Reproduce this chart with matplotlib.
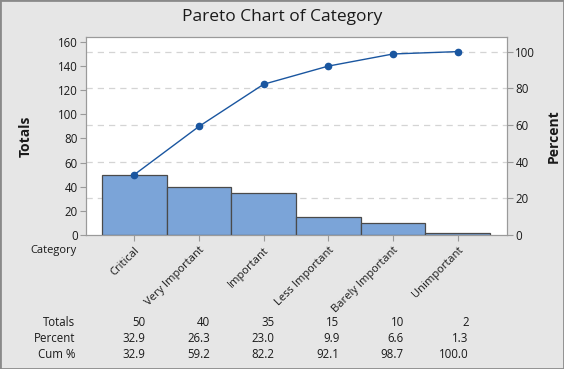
import matplotlib.pyplot as plt
import numpy as np

plt.rcParams['font.family'] = ['Open Sans', 'DejaVu Sans']

categories = ['Critical', 'Very Important', 'Important', 'Less Important',
              'Barely Important', 'Unimportant']
totals = [50, 40, 35, 15, 10, 2]
percent = [32.9, 26.3, 23.0, 9.9, 6.6, 1.3]
cum_pct = [32.9, 59.2, 82.2, 92.1, 98.7, 100.0]

bg = '#e6e6e6'
spine_col = '#9a9a9a'
txt_col = '#1a1a1a'

fig = plt.figure(figsize=(5.64, 3.69), dpi=100, facecolor=bg)

ax = fig.add_axes([86 / 564, 1 - 235 / 369, (507 - 86) / 564, (235 - 37) / 369])
ax.set_facecolor('white')

x = np.arange(len(categories))
ax.bar(x, totals, width=1.0, color='#7ba4d8', edgecolor='#4a4a4a', linewidth=0.9, zorder=3)

ymax = 164.1
scale = sum(totals) / 100
ax.set_ylim(0, ymax)
ax.set_xlim(-0.747, 5.763)
ax.set_yticks(np.arange(0, 161, 20))
ax.set_xticks(x)
ax.set_xticklabels(categories, rotation=45, ha='right', rotation_mode='anchor', fontsize=8, color=txt_col)
ax.tick_params(axis='y', labelsize=8.3, colors=spine_col, labelcolor=txt_col, length=4, pad=2)
ax.tick_params(axis='x', colors=spine_col, labelcolor=txt_col, length=4, pad=3)
for s in ax.spines.values():
    s.set_color(spine_col)
ax.set_ylabel('Totals', fontsize=10, fontweight='bold', color=txt_col, labelpad=18)
# dashed grid at the percent ticks, behind the bars
for v in range(20, 101, 20):
    ax.axhline(v * scale, color='#d4d4d4', linestyle=(0, (5, 4)), linewidth=0.9, zorder=0)

ax2 = ax.twinx()
ax2.set_ylim(0, ymax / scale)
ax2.set_yticks(np.arange(0, 101, 20))
ax2.tick_params(axis='y', labelsize=8.3, colors=spine_col, labelcolor=txt_col, length=4, pad=2)
for s in ax2.spines.values():
    s.set_color(spine_col)
ax2.set_ylabel('Percent', fontsize=10, fontweight='bold', color=txt_col, labelpad=8)
ax2.plot(x, cum_pct, color='#1a56a0', linewidth=1.0, marker='o', markersize=4.5, zorder=4)

fig.text(282 / 564, 1 - 17 / 369, 'Pareto Chart of Category', ha='center', va='center',
         fontsize=12.5, color=txt_col)
fig.text(77 / 564, 1 - 250 / 369, 'Category', ha='right', va='center', fontsize=8, color=txt_col)

# summary table below the chart
rows = [('Totals', [str(v) for v in totals]),
        ('Percent', ['%.1f' % v for v in percent]),
        ('Cum %', ['%.1f' % v for v in cum_pct])]
for i, (name, vals) in enumerate(rows):
    yy = 1 - (323 + 16 * i) / 369
    fig.text(75 / 564, yy, name, ha='right', va='center', fontsize=8.3, color=txt_col)
    for xi, v in zip(x, vals):
        px = ax.transData.transform((xi, 0))[0] + 11
        fig.text(px / 564, yy, v, ha='right', va='center', fontsize=8.3, color=txt_col)

fig.patches.append(plt.Rectangle((0, 0), 1, 1, transform=fig.transFigure, fill=False,
                                 edgecolor='#8a8a8a', linewidth=2))
fig.savefig('out.png', dpi=100, facecolor=bg)
